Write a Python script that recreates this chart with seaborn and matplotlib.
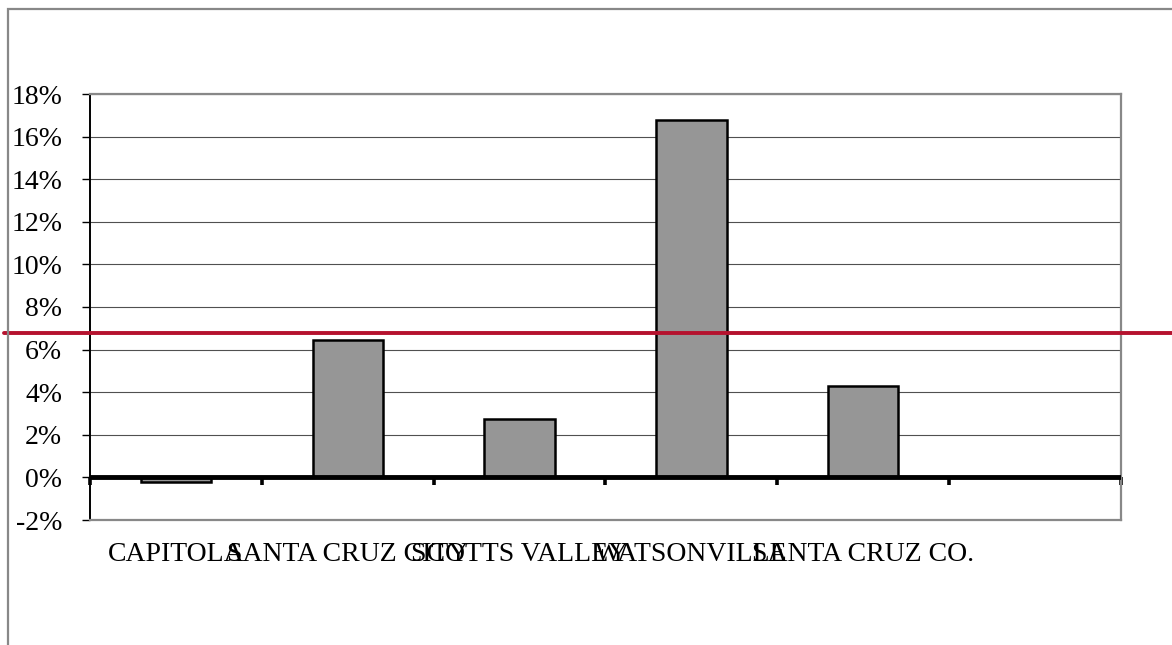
import numpy as np
import pandas as pd
import seaborn as sns
import matplotlib.pyplot as plt
from matplotlib.patches import Rectangle
from matplotlib.ticker import FuncFormatter

# values in percent
places = ['CAPITOLA', 'SANTA CRUZ CITY', 'SCOTTS VALLEY', 'WATSONVILLE', 'SANTA CRUZ CO.', '']
growth = [-0.2, 6.43, 2.72, 16.76, 4.27, np.nan]
reference_level = 6.8
y_ticks = list(range(-2, 19, 2))

sns.set_style('white')
plt.rcParams['font.family'] = ['Liberation Serif', 'DejaVu Serif']
plt.rcParams['font.size'] = 20
plt.rcParams['text.color'] = 'black'
plt.rcParams['xtick.color'] = 'black'
plt.rcParams['ytick.color'] = 'black'

df = pd.DataFrame({'place': places, 'growth': growth})

fig = plt.figure(figsize=(11.72, 6.45), dpi=100)
ax = fig.add_axes([90 / 1172, 1 - 520 / 645, 1031 / 1172, 426 / 645])

sns.barplot(x='place', y='growth', data=df, order=places, ax=ax,
            color='#969696', saturation=1, width=0.41,
            edgecolor='black', linewidth=1.8, errorbar=None, zorder=3)

ymin, ymax = y_ticks[0], y_ticks[-1]
ax.set_ylim(ymin, ymax)
ax.set_xlim(-0.5, len(places) - 0.5)
ax.set_yticks(y_ticks)
ax.yaxis.set_major_formatter(FuncFormatter(lambda v, p: f'{v:.0f}%'))
ax.set_xticks(range(len(places)))
ax.set_xticklabels(places)
ax.set_xlabel('')
ax.set_ylabel('')

ax.grid(axis='y', color='#505050', linewidth=0.8, zorder=0)
ax.set_axisbelow(True)
ax.tick_params(axis='y', direction='out', length=6, width=1, color='black',
               labelcolor='black', pad=14, left=True, labelsize=20)
ax.tick_params(axis='x', length=0, pad=16, labelcolor='black', labelsize=20)

for side in ['top', 'right', 'bottom']:
    ax.spines[side].set_color('#888888')
    ax.spines[side].set_linewidth(1.6)
ax.spines['left'].set_color('black')
ax.spines['left'].set_linewidth(1.4)

# thick zero line with category boundary ticks under it
ax.axhline(0, color='black', linewidth=3.5, zorder=4)
zero_axis = ax.secondary_xaxis((0 - ymin) / (ymax - ymin))
zero_axis.set_xticks(np.arange(-0.5, len(places), 1.0))
zero_axis.set_xticklabels([])
zero_axis.tick_params(direction='out', length=5.5, width=2.6, color='black')
for s in zero_axis.spines.values():
    s.set_visible(False)

# red reference line running across the whole frame
ax.axhline(reference_level, xmin=(4 - 90) / 1031, xmax=(1172 - 90) / 1031,
           color='#B5122E', linewidth=2.8, clip_on=False, zorder=6)

# outer chart frame (right and bottom edges fall outside the picture)
frame_left, frame_top = 8 / 1172, 1 - 9 / 645
fig.add_artist(Rectangle((frame_left, -0.2), 1.2, frame_top + 0.2,
                         transform=fig.transFigure, fill=False,
                         edgecolor='#888888', linewidth=1.6))

fig.savefig('out.png', dpi=100)
